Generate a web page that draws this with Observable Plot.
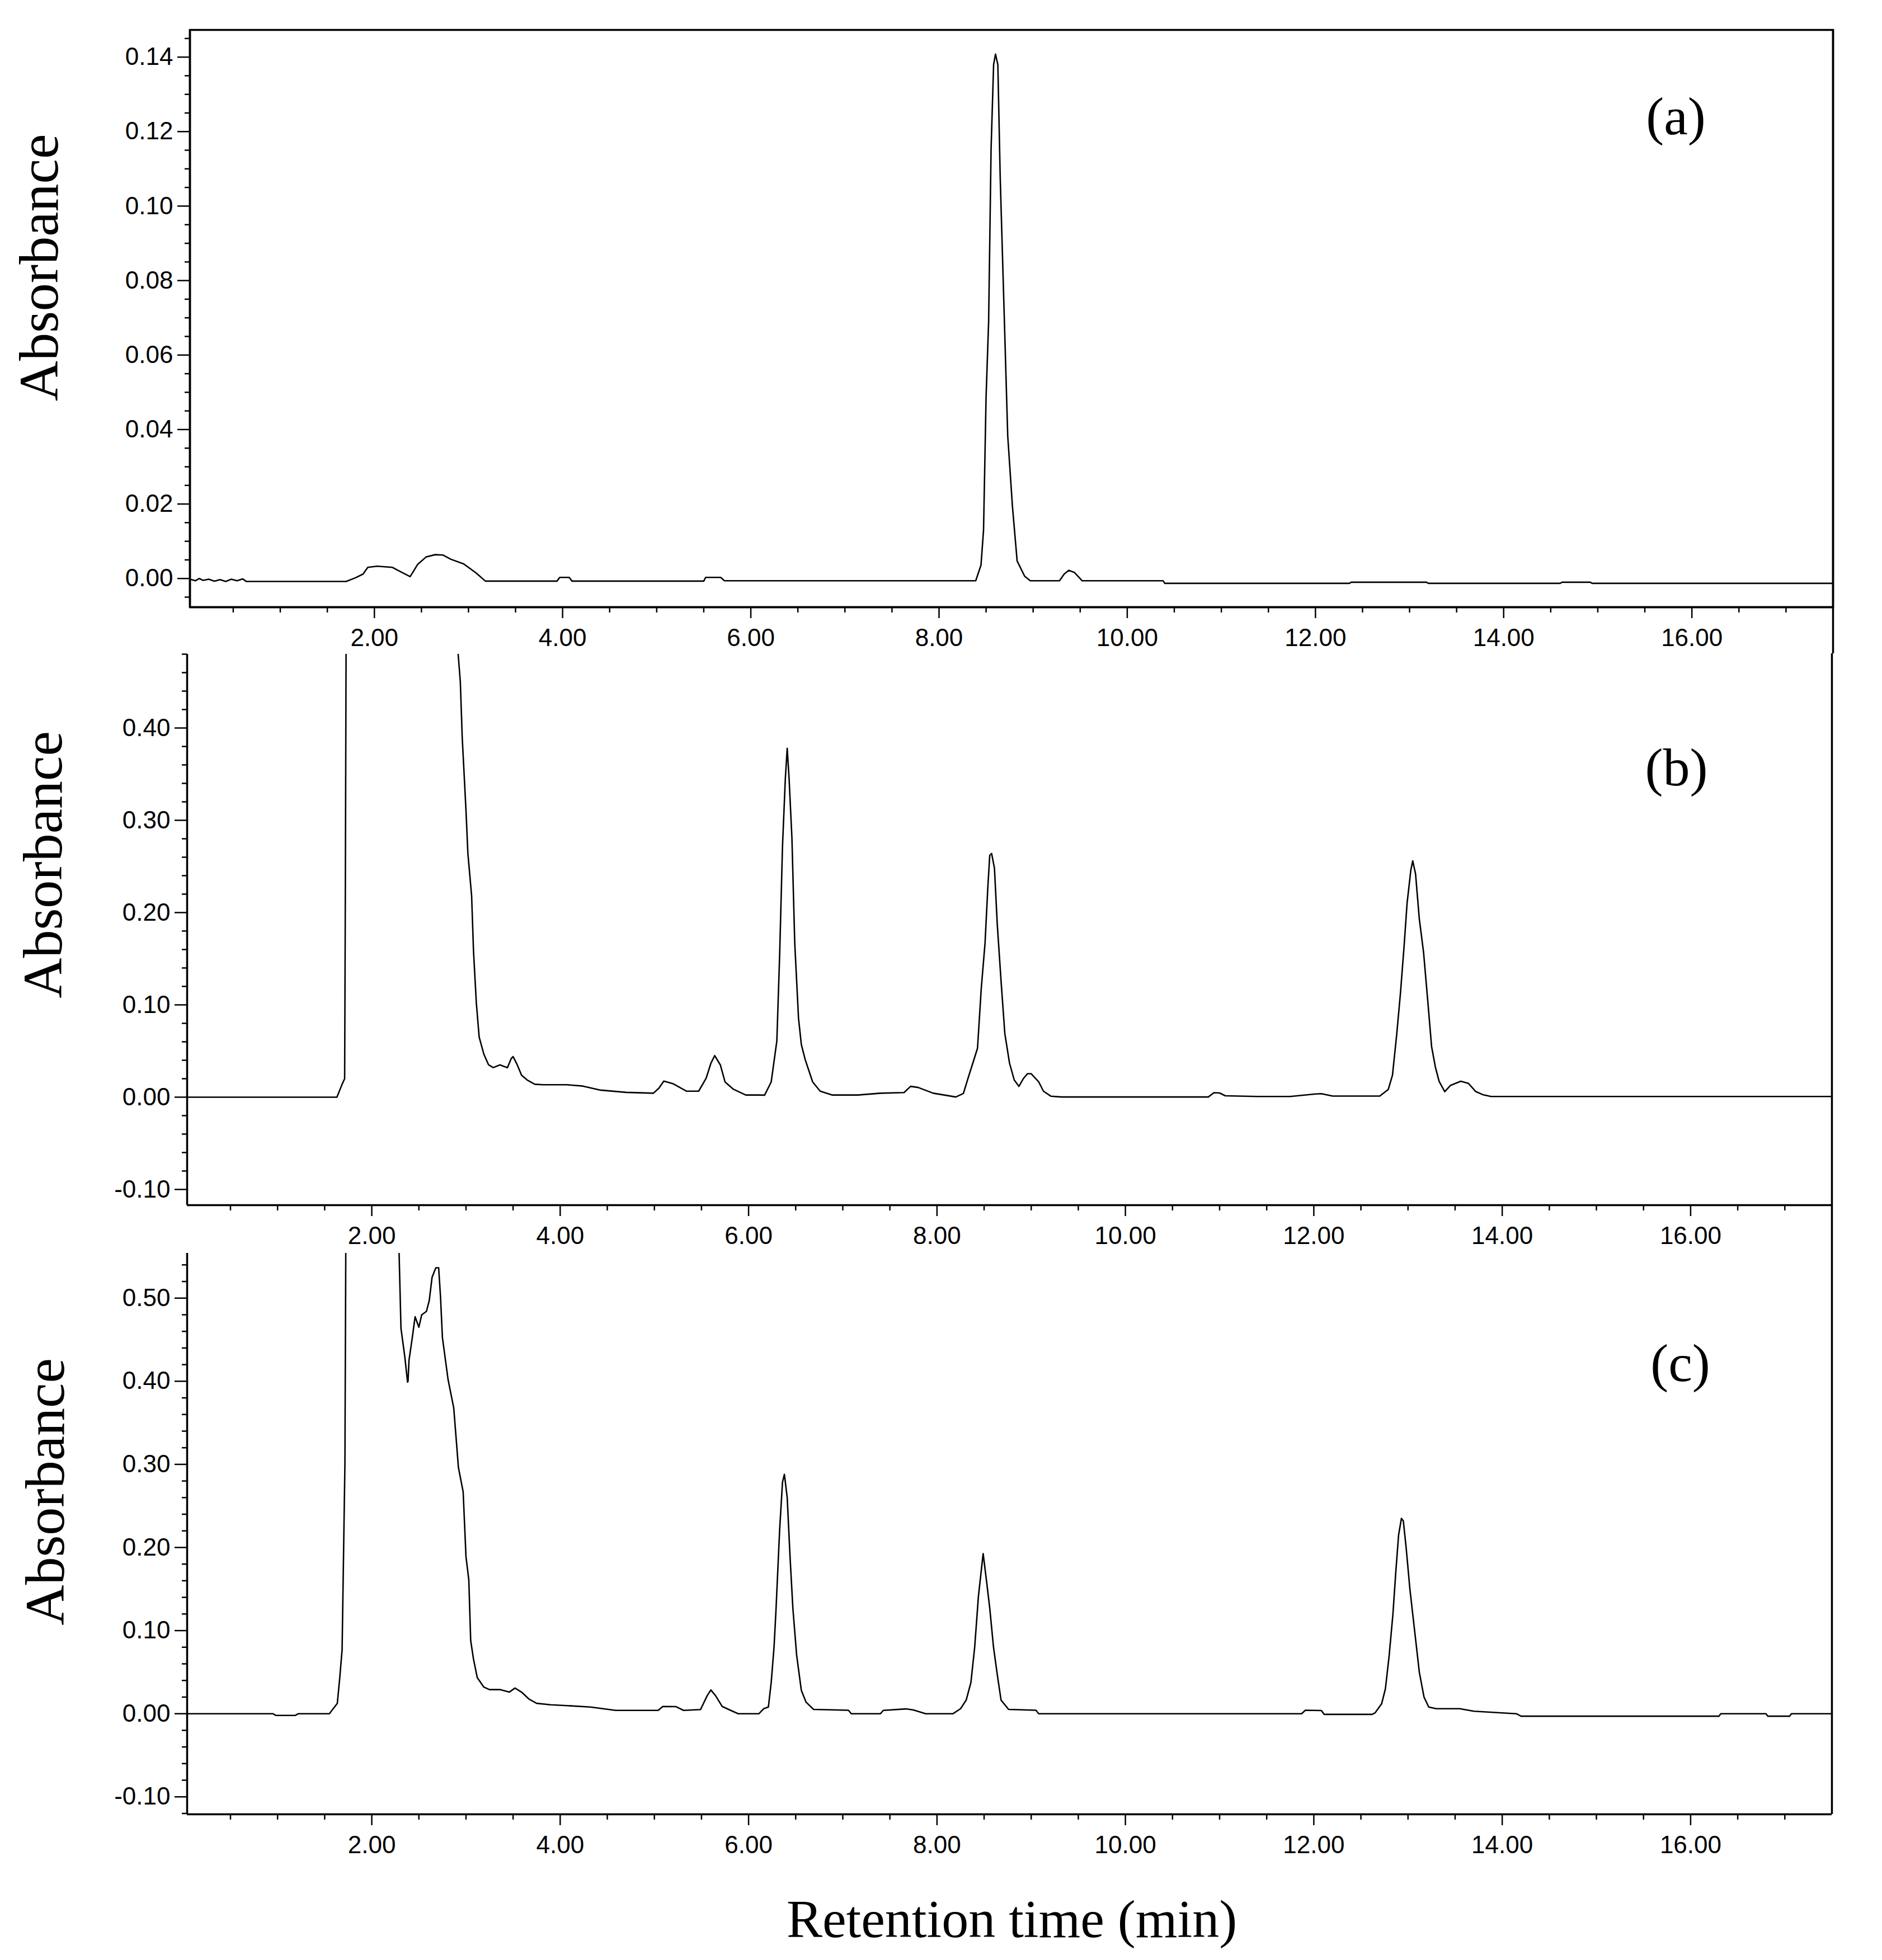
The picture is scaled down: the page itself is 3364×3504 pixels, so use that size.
<!DOCTYPE html>
<html>
<head>
<meta charset="utf-8">
<script src="https://cdn.jsdelivr.net/npm/d3@7"></script>
<script src="https://cdn.jsdelivr.net/npm/@observablehq/plot@0.6"></script>
<style>
  html, body { margin: 0; padding: 0; background: #fff; }
  #chart { position: relative; width: 3364px; height: 3504px; background: #fff; overflow: hidden; }
  #chart svg { position: absolute; left: 0; overflow: visible; }
</style>
</head>
<body>
<div id="chart"></div>
<script>
// ---------- data (retention time in min, absorbance) ----------
const timeA = [0.04,0.10,0.14,0.18,0.24,0.30,0.36,0.42,0.48,0.54,0.60,0.64,1.70,1.80,1.88,1.93,2.03,2.19,2.25,2.38,2.46,2.55,2.645,2.73,2.81,2.95,3.08,3.18,3.94,3.97,4.07,4.10,5.50,5.52,5.68,5.72,8.39,8.446,8.473,8.50,8.527,8.553,8.58,8.60,8.625,8.65,8.69,8.73,8.78,8.83,8.91,8.97,9.28,9.33,9.38,9.44,9.52,10.38,10.40,12.36,12.38,13.18,13.20,14.60,14.62,14.92,14.94,17.5];
const absA  = [-0.0002,-0.0006,0.0000,-0.0005,-0.0002,-0.0007,-0.0003,-0.0008,-0.0002,-0.0006,-0.0001,-0.0008,-0.0008,0.0002,0.0012,0.0030,0.0033,0.0030,0.0022,0.0005,0.0038,0.0058,0.0064,0.0063,0.0052,0.0039,0.0015,-0.0007,-0.0007,0.0003,0.0003,-0.0007,-0.0007,0.0003,0.0003,-0.0006,-0.0006,0.0036,0.013,0.0488,0.0689,0.1152,0.138,0.1408,0.138,0.1078,0.0731,0.0383,0.0194,0.0047,0.0006,-0.0006,-0.0006,0.0012,0.0022,0.0016,-0.0006,-0.0006,-0.0013,-0.0013,-0.0010,-0.0010,-0.0013,-0.0013,-0.0010,-0.0010,-0.0013,-0.0013];

const timeB = [0.04,1.63,1.685,1.712,1.718,1.74,2.00,2.50,2.88,2.917,2.94,2.96,3.00,3.02,3.06,3.08,3.11,3.14,3.19,3.24,3.29,3.36,3.44,3.48,3.50,3.54,3.59,3.65,3.73,3.82,4.07,4.24,4.43,4.70,4.99,5.05,5.10,5.20,5.34,5.47,5.55,5.60,5.64,5.70,5.75,5.84,5.97,6.11,6.17,6.24,6.30,6.33,6.36,6.39,6.41,6.43,6.46,6.49,6.53,6.56,6.60,6.68,6.76,6.89,7.16,7.40,7.65,7.72,7.80,7.96,8.20,8.28,8.33,8.38,8.43,8.47,8.51,8.54,8.56,8.58,8.61,8.64,8.68,8.72,8.77,8.82,8.87,8.92,8.96,9.00,9.08,9.13,9.21,9.32,10.88,10.94,11.00,11.06,11.40,11.75,12.02,12.08,12.20,12.70,12.79,12.835,12.88,12.92,12.96,12.99,13.03,13.05,13.08,13.12,13.165,13.21,13.25,13.29,13.33,13.39,13.45,13.56,13.64,13.72,13.80,13.88,17.5];
const absB  = [0.0000,0.0000,0.014,0.020,0.179,0.90,1.50,1.30,0.62,0.48,0.450,0.390,0.311,0.2645,0.218,0.158,0.102,0.065,0.0465,0.035,0.032,0.035,0.032,0.0418,0.044,0.036,0.0238,0.0186,0.014,0.0135,0.0135,0.012,0.0076,0.0052,0.0043,0.010,0.0174,0.0145,0.0065,0.0065,0.0206,0.0368,0.045,0.035,0.0165,0.0085,0.0023,0.0023,0.0022,0.0165,0.061,0.155,0.272,0.345,0.378,0.345,0.281,0.167,0.0855,0.057,0.041,0.0165,0.0065,0.0023,0.0023,0.0043,0.005,0.0117,0.0105,0.0043,0.0002,0.004,0.0206,0.0368,0.053,0.118,0.167,0.228,0.262,0.264,0.248,0.187,0.126,0.069,0.0368,0.0186,0.0117,0.0206,0.0254,0.0254,0.0165,0.0065,0.001,0.0002,0.0002,0.0048,0.0045,0.0015,0.0007,0.0007,0.0035,0.0038,0.0012,0.0012,0.0083,0.0238,0.068,0.113,0.166,0.21,0.246,0.256,0.242,0.193,0.157,0.104,0.055,0.0328,0.0172,0.006,0.0127,0.0172,0.015,0.006,0.0025,0.0007,0.0007];

const timeC = [0.04,0.95,0.98,1.19,1.22,1.55,1.58,1.634,1.66,1.685,1.70,1.715,1.74,2.00,2.25,2.29,2.31,2.35,2.38,2.385,2.395,2.43,2.46,2.50,2.53,2.58,2.61,2.64,2.68,2.71,2.73,2.75,2.81,2.87,2.92,2.97,3.00,3.03,3.05,3.08,3.12,3.19,3.25,3.36,3.46,3.52,3.59,3.67,3.75,3.90,4.11,4.32,4.59,5.04,5.09,5.23,5.31,5.49,5.56,5.60,5.65,5.72,5.81,5.89,6.11,6.16,6.21,6.24,6.27,6.29,6.33,6.36,6.38,6.41,6.44,6.47,6.51,6.56,6.61,6.69,7.06,7.09,7.40,7.43,7.67,7.75,7.88,8.17,8.25,8.31,8.36,8.40,8.44,8.49,8.53,8.56,8.60,8.64,8.68,8.76,9.05,9.08,11.87,11.91,12.08,12.11,12.62,12.65,12.72,12.76,12.80,12.84,12.87,12.90,12.93,12.95,12.98,13.02,13.07,13.12,13.17,13.22,13.30,13.55,13.70,14.15,14.20,16.30,16.32,16.80,16.82,17.05,17.07,17.5];
const absC  = [0.0,0.0,-0.002,-0.002,0.0,0.0,0.0045,0.0124,0.0432,0.0768,0.189,0.301,1.0,1.6,0.75,0.554,0.4636,0.43,0.399,0.40,0.425,0.4525,0.4776,0.465,0.48,0.484,0.497,0.525,0.5365,0.5365,0.501,0.4525,0.402,0.368,0.296,0.267,0.189,0.161,0.088,0.0656,0.0434,0.032,0.029,0.029,0.026,0.0308,0.026,0.0175,0.0125,0.0107,0.0095,0.008,0.004,0.004,0.0087,0.0085,0.004,0.005,0.0216,0.0286,0.0216,0.0087,0.004,0.0,0.0,0.006,0.008,0.0376,0.080,0.1226,0.222,0.2786,0.288,0.26,0.189,0.127,0.0706,0.028,0.0139,0.0052,0.0042,0.0,0.0,0.004,0.0058,0.0045,0.0,0.0,0.006,0.0164,0.0376,0.08,0.1416,0.1926,0.1557,0.127,0.08,0.047,0.0164,0.0052,0.0042,0.0,0.0,0.0042,0.0038,-0.0008,-0.0008,0.001,0.012,0.03,0.07,0.12,0.17,0.215,0.235,0.232,0.20,0.15,0.10,0.05,0.02,0.008,0.006,0.006,0.003,0.0,-0.003,-0.003,0.0,0.0,-0.003,-0.003,0.0,0.0];

// ---------- axes ----------
const xDomain = [0.04, 17.5];
const xMajorTicks = [2, 4, 6, 8, 10, 12, 14, 16];
const xMinorTicks = d3.range(0.5, 17.5, 0.5).filter(t => t % 2 !== 0);

const yDomainA = [-0.0077, 0.1473];
const yMajorA = [0, 0.02, 0.04, 0.06, 0.08, 0.10, 0.12, 0.14];
const yMinorA = d3.range(-5, 148, 5).map(v => v / 1000).filter(v => Math.round(v * 1000) % 20 !== 0);

const yDomainB = [-0.117, 0.48];
const yMajorB = [-0.10, 0, 0.10, 0.20, 0.30, 0.40];
const yMinorB = d3.range(-10, 49, 2).map(v => v / 100).filter(v => Math.round(v * 100) % 10 !== 0);

const yDomainC = [-0.121, 0.554];
const yMajorC = [-0.10, 0, 0.10, 0.20, 0.30, 0.40, 0.50];
const yMinorC = d3.range(-12, 56, 2).map(v => v / 100).filter(v => Math.round(v * 100) % 10 !== 0);

const panelLabels = ["(a)", "(b)", "(c)"];
const yLabel = "Absorbance";
const xLabel = "Retention time (min)";

// ---------- drawing ----------
const fmt = d => (Math.abs(d) < 1e-9 ? 0 : d).toFixed(2);
const SERIF = "'Liberation Serif', 'Times New Roman', serif";

function panel(o) {
  const data = o.times.map((t, i) => ({t, a: o.values[i]}));
  const marks = [
    Plot.axisY(o.yMajor, {tickSize: 22, tickPadding: 8, tickFormat: fmt, fontSize: 44, strokeWidth: 2.5, label: null}),
    Plot.axisY(o.yMinor, {tickSize: 9, tickFormat: () => "", strokeWidth: 2.5, label: null}),
    Plot.axisX(xMajorTicks, {tickSize: 20, tickPadding: 18, tickFormat: fmt, fontSize: 44, strokeWidth: 2.5, label: null}),
    Plot.axisX(xMinorTicks, {tickSize: 10, tickFormat: () => "", strokeWidth: 2.5, label: null}),
    Plot.ruleY([o.yDomain[0]], {stroke: "black", strokeWidth: 3.5}),
    Plot.ruleX([xDomain[0]], {stroke: "black", strokeWidth: 3.5}),
    Plot.ruleX([xDomain[1]], {stroke: "black", strokeWidth: 3.5, insetTop: o.rightInsetTop, insetBottom: o.rightInsetBottom}),
    Plot.line(data, {x: "t", y: "a", stroke: "black", strokeWidth: 2.6, clip: true}),
    Plot.text([o.label], {text: d => d, frameAnchor: "top-right", textAnchor: "middle", lineAnchor: "middle",
      dx: o.labelDx, dy: o.labelDy, fontSize: 96, fontFamily: SERIF, fill: "black"}),
    Plot.text([yLabel], {text: d => d, frameAnchor: "left", textAnchor: "middle", lineAnchor: "middle", rotate: -90,
      dx: o.yLabelDx, dy: o.yLabelDy, fontSize: 100, fontFamily: SERIF, fill: "black"})
  ];
  if (o.frame) marks.push(Plot.frame({stroke: "black", strokeWidth: 3.5}));
  if (o.xLabel) marks.push(Plot.text([o.xLabel], {text: d => d, frameAnchor: "bottom", textAnchor: "middle", lineAnchor: "bottom",
      dx: 4, dy: 219, fontSize: 96, fontFamily: SERIF, fill: "black"}));
  const svg = Plot.plot({
    width: 3364,
    height: o.height,
    marginLeft: o.marginLeft,
    marginRight: o.marginRight,
    marginTop: o.marginTop,
    marginBottom: o.marginBottom,
    style: {fontFamily: "'Liberation Sans', Arial, sans-serif", fontSize: "44px", color: "black", background: "transparent"},
    x: {domain: xDomain, type: "linear"},
    y: {domain: o.yDomain, type: "linear"},
    marks
  });
  svg.style.top = o.top + "px";
  return svg;
}

const chart = document.getElementById("chart");
chart.appendChild(panel({
  times: timeA, values: absA, yDomain: yDomainA, yMajor: yMajorA, yMinor: yMinorA,
  top: 0, height: 1168, marginTop: 53, marginBottom: 83, marginLeft: 339, marginRight: 88,
  rightInsetTop: 0, rightInsetBottom: -83, frame: true,
  label: panelLabels[0], labelDx: -281, labelDy: 156, yLabelDx: -269, yLabelDy: -91
}));
chart.appendChild(panel({
  times: timeB, values: absB, yDomain: yDomainB, yMajor: yMajorB, yMinor: yMinorB,
  top: 1168, height: 1068, marginTop: 1, marginBottom: 82, marginLeft: 334, marginRight: 90,
  rightInsetTop: -1, rightInsetBottom: -82, frame: false,
  label: panelLabels[1], labelDx: -278, labelDy: 204, yLabelDx: -257, yLabelDy: -116
}));
chart.appendChild(panel({
  times: timeC, values: absC, yDomain: yDomainC, yMajor: yMajorC, yMinor: yMinorC,
  top: 2236, height: 1268, marginTop: 4, marginBottom: 261, marginLeft: 334, marginRight: 90,
  rightInsetTop: -4, rightInsetBottom: 0, frame: false,
  label: panelLabels[2], labelDx: -271, labelDy: 198, yLabelDx: -253, yLabelDy: -75,
  xLabel: xLabel
}));
</script>
</body>
</html>
